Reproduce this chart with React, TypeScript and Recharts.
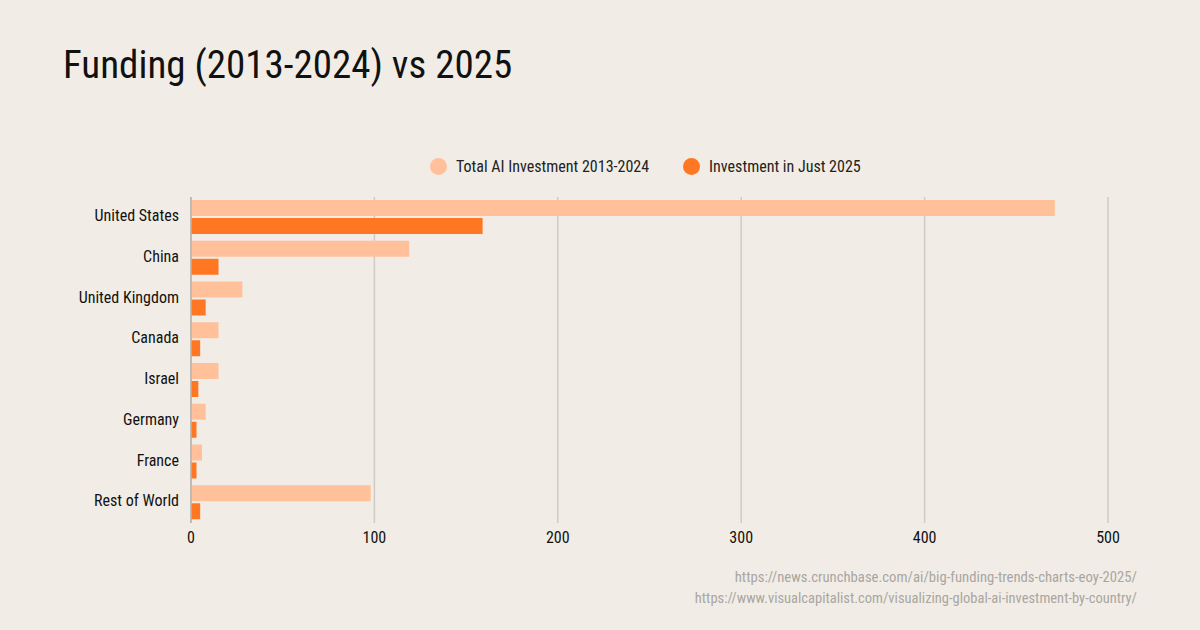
import React from 'react'
import { BarChart, Bar, XAxis, YAxis, CartesianGrid } from 'recharts'

const countries = [
  'United States',
  'China',
  'United Kingdom',
  'Canada',
  'Israel',
  'Germany',
  'France',
  'Rest of World',
]
const total2013to2024 = [471, 119, 28, 15, 15, 8, 6, 98]
const just2025 = [159, 15, 8, 5, 4, 3, 3, 5]
const xTicks = [0, 100, 200, 300, 400, 500]
const sources = [
  'https://news.crunchbase.com/ai/big-funding-trends-charts-eoy-2025/',
  'https://www.visualcapitalist.com/visualizing-global-ai-investment-by-country/',
]

const LIGHT = '#FFC09A'
const DARK = '#FF7722'
const FONT = "'Roboto Condensed', 'Liberation Sans Narrow', 'DejaVu Sans Condensed', Roboto, sans-serif"

const rows = countries.map((name, i) => ({
  name,
  total: total2013to2024[i],
  y2025: just2025[i],
}))

const legendItems = [
  { label: 'Total AI Investment 2013-2024', color: LIGHT },
  { label: 'Investment in Just 2025', color: DARK },
]

export default function App() {
  return (
    <div
      style={{
        position: 'absolute',
        top: 0,
        left: 0,
        width: 1200,
        height: 630,
        background: '#F1EDE6',
        fontFamily: FONT,
        overflow: 'hidden',
      }}
    >
      <div style={{ position: 'absolute', left: 63, top: 39, fontSize: 39, color: '#111', lineHeight: '52px' }}>
        Funding (2013-2024) vs 2025
      </div>

      <div
        style={{
          position: 'absolute',
          top: 157,
          left: 430,
          display: 'flex',
          gap: 34,
        }}
      >
        {legendItems.map((it) => (
          <div key={it.label} style={{ display: 'flex', alignItems: 'center', fontSize: 16, color: '#222' }}>
            <span
              style={{
                width: 17,
                height: 17,
                borderRadius: '50%',
                background: it.color,
                display: 'inline-block',
                marginRight: 9,
              }}
            />
            {it.label}
          </div>
        ))}
      </div>

      <BarChart
        width={1200}
        height={630}
        data={rows}
        layout="vertical"
        margin={{ top: 197, right: 92, bottom: 77, left: 0 }}
        barCategoryGap={3}
        barGap={2}
        style={{ position: 'absolute', top: 0, left: 0 }}
      >
        <CartesianGrid horizontal={false} stroke="#CFCBC4" strokeWidth={1.5} />
        <XAxis
          type="number"
          domain={[0, 500]}
          ticks={xTicks}
          axisLine={false}
          tickLine={false}
          height={30}
          tickMargin={3}
          tick={{ fill: '#111', fontSize: 16, fontFamily: FONT }}
        />
        <YAxis
          type="category"
          dataKey="name"
          width={191}
          axisLine={{ stroke: '#B8B4AD', strokeWidth: 1.5 }}
          tickLine={false}
          tickMargin={6}
          tick={{ fill: '#111', fontSize: 16, fontFamily: FONT, dy: -2 }}
        />
        <Bar dataKey="total" fill={LIGHT} isAnimationActive={false} />
        <Bar dataKey="y2025" fill={DARK} isAnimationActive={false} />
      </BarChart>

      {sources.map((s, i) => (
        <div
          key={s}
          style={{
            position: 'absolute',
            right: 63,
            top: 568 + i * 22,
            fontSize: i === 0 ? 14.7 : 14.5,
            color: '#A9A6A1',
          }}
        >
          {s}
        </div>
      ))}
    </div>
  )
}
